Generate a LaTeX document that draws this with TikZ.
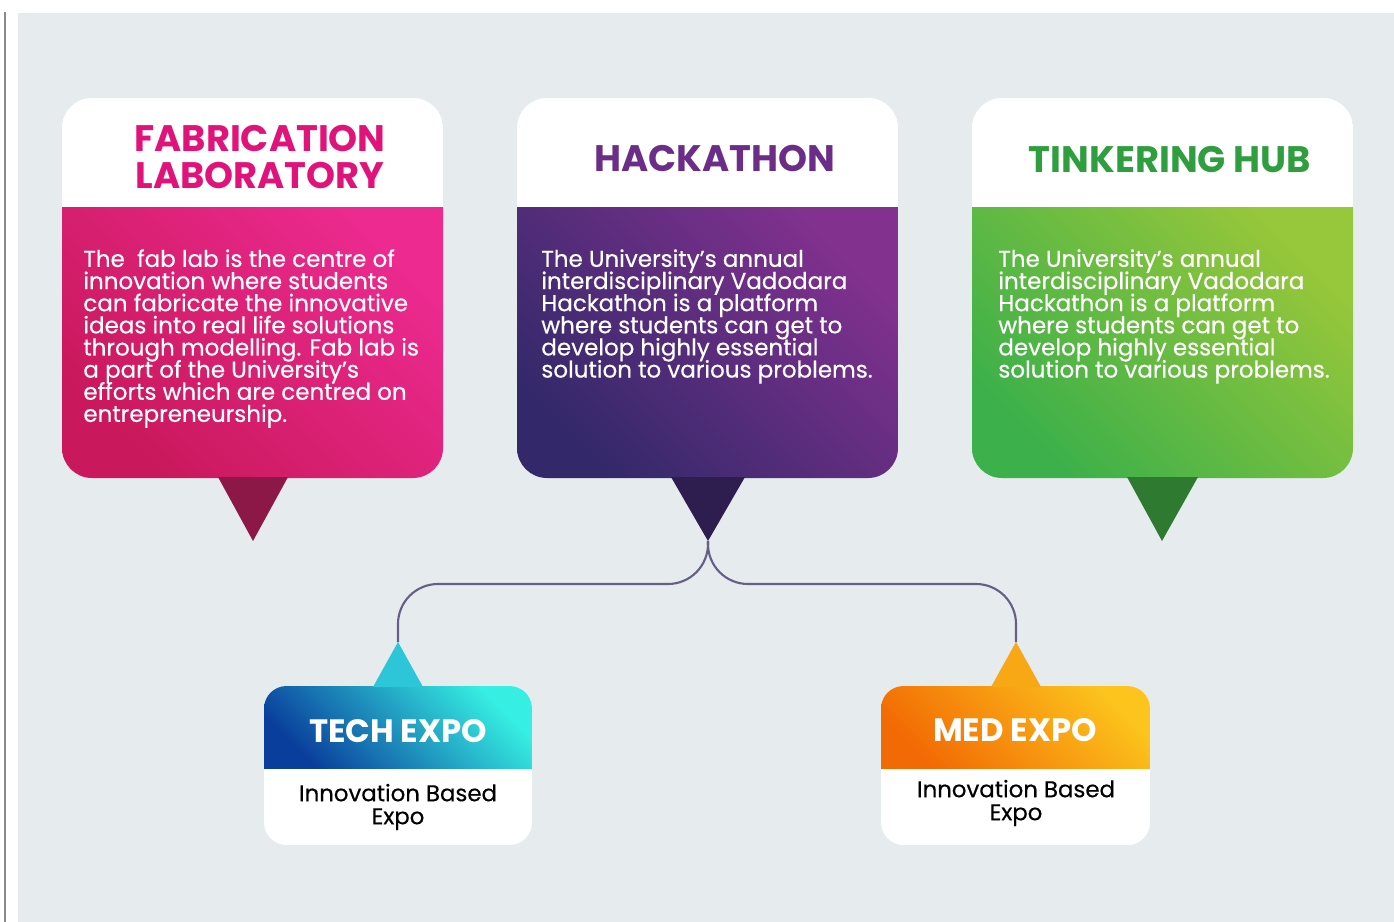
\documentclass[tikz,border=0pt]{standalone}
\usepackage{fontspec}
\setmainfont{Poppins}
\newfontfamily\mediumfont{Poppins}[FakeBold=0.35]
\usepackage{xcolor}
\usepackage{tikz}
\usetikzlibrary{positioning}
\newcommand{\tightlines}{\setlength{\lineskiplimit}{-20pt}\setlength{\lineskip}{0pt}}

\definecolor{panel}{HTML}{E6EBEE}
\definecolor{edgegray}{HTML}{8A8A8A}
\definecolor{linkgray}{HTML}{655F85}
\definecolor{fabtitle}{HTML}{E0137A}
\definecolor{fablight}{HTML}{EC2A8F}
\definecolor{fabdark}{HTML}{C9185B}
\definecolor{fabtip}{HTML}{8B1846}
\definecolor{hacktitle}{HTML}{6B2D87}
\definecolor{hacklight}{HTML}{82318F}
\definecolor{hackdark}{HTML}{33296A}
\definecolor{hacktip}{HTML}{2D1E4F}
\definecolor{tinktitle}{HTML}{2E9E3E}
\definecolor{tinklight}{HTML}{97C73A}
\definecolor{tinkdark}{HTML}{3CB04A}
\definecolor{tinktip}{HTML}{2E7A30}
\definecolor{techlight}{HTML}{36EFE2}
\definecolor{techdark}{HTML}{0A3E9C}
\definecolor{techtip}{HTML}{2CC6D8}
\definecolor{medlight}{HTML}{FCC41C}
\definecolor{meddark}{HTML}{F26A04}
\definecolor{medtip}{HTML}{F8A815}

\tikzset{
    cardtitle/.style={font=\fontsize{21}{21.6}\selectfont\bfseries, align=center},
    cardtext/.style={font=\mediumfont\fontsize{13.1}{12.6}\selectfont\tightlines, text=white, align=left, anchor=north west, inner sep=0pt},
    link/.style={draw=linkgray, line width=1.2pt, rounded corners=0.8cm},
    expotitle/.style={font=\fontsize{18.4}{19}\selectfont\bfseries, text=white},
    expotext/.style={font=\mediumfont\fontsize{13}{13.1}\selectfont\tightlines, align=center, inner sep=0pt}
}

\begin{document}
\begin{tikzpicture}[x=0.02cm, y=-0.02cm]
    \useasboundingbox (0,0) rectangle (1394,922);
    % Background panel
    \fill[white] (0,0) rectangle (1394,922);
    \fill[panel] (18,13) rectangle (1394,922);
    \draw[edgegray, line width=0.8pt] (5,12) -- (5,922);

    % Fabrication laboratory card
    \begin{scope}
        \clip[rounded corners=0.6cm] (62,98) rectangle (443,478);
        \fill[white] (62,98) rectangle (443,208);
        \shade[bottom color=fabdark, top color=fablight, shading angle=-45] (62,208) rectangle (443,478);
    \end{scope}
    \fill[fabtip] (218,477) -- (288,477) -- (253,541) -- cycle;
    \node[cardtitle, text=fabtitle] (fabhead) at (260,157) {FABRICATION\\LABORATORY};
    \node[cardtext] (fabbody) at (83,249) {The\ \ fab lab is the centre of\\
        innovation where students\\
        can fabricate the innovative\\
        ideas into real life solutions\\
        through modelling. Fab lab is\\
        a part of the University’s\\
        efforts which are centred on\\
        entrepreneurship.};

    % Hackathon card
    \begin{scope}
        \clip[rounded corners=0.6cm] (517,98) rectangle (898,478);
        \fill[white] (517,98) rectangle (898,208);
        \shade[bottom color=hackdark, top color=hacklight, shading angle=-45] (517,208) rectangle (898,478);
    \end{scope}
    \fill[hacktip] (671,477) -- (745,477) -- (708,541) -- cycle;
    \coordinate (hackpoint) at (708,541);
    \node[cardtitle, text=hacktitle] (hackhead) at (715,158) {HACKATHON};
    \node[cardtext] (hackbody) at (541,249) {The University’s annual\\
        interdisciplinary Vadodara\\
        Hackathon is a platform\\
        where students can get to\\
        develop highly essential\\
        solution to various problems.};

    % Tinkering hub card
    \begin{scope}
        \clip[rounded corners=0.6cm] (972,98) rectangle (1353,478);
        \fill[white] (972,98) rectangle (1353,208);
        \shade[bottom color=tinkdark, top color=tinklight, shading angle=-45] (972,208) rectangle (1353,478);
    \end{scope}
    \fill[tinktip] (1127,477) -- (1198,477) -- (1162,541) -- cycle;
    \node[cardtitle, text=tinktitle] (tinkhead) at (1170,160) {TINKERING HUB};
    \node[cardtext] (tinkbody) at (998,249) {The University’s annual\\
        interdisciplinary Vadodara\\
        Hackathon is a platform\\
        where students can get to\\
        develop highly essential\\
        solution to various problems.};

    % Tech expo card
    \begin{scope}
        \clip[rounded corners=0.45cm] (264,686) rectangle (532,845);
        \fill[white] (264,686) rectangle (532,845);
        \shade[bottom color=techdark, top color=techlight, shading angle=-45] (264,686) rectangle (532,768);
    \end{scope}
    \fill[techtip] (373,687) -- (423,687) -- (398,642) -- cycle;
    \coordinate (techpoint) at (398,642);
    \node[expotitle] (techhead) at (398,731) {TECH EXPO};
    \node[expotext] (techbody) at (398,807) {Innovation Based\\Expo};

    % Med expo card
    \begin{scope}
        \clip[rounded corners=0.45cm] (881,686) rectangle (1150,845);
        \fill[white] (881,686) rectangle (1150,845);
        \shade[bottom color=meddark, top color=medlight, shading angle=-45] (881,686) rectangle (1150,768);
    \end{scope}
    \fill[medtip] (991,687) -- (1041,687) -- (1016,642) -- cycle;
    \coordinate (medpoint) at (1016,642);
    \node[expotitle] (medhead) at (1015,730) {MED EXPO};
    \node[expotext] (medbody) at (1016,803) {Innovation Based\\Expo};

    % Links from hackathon to the expos
    \coordinate (fork) at (708,584);
    \draw[link] (hackpoint) -- (fork) -| (techpoint);
    \draw[link] (hackpoint) -- (fork) -| (medpoint);
\end{tikzpicture}
\end{document}
